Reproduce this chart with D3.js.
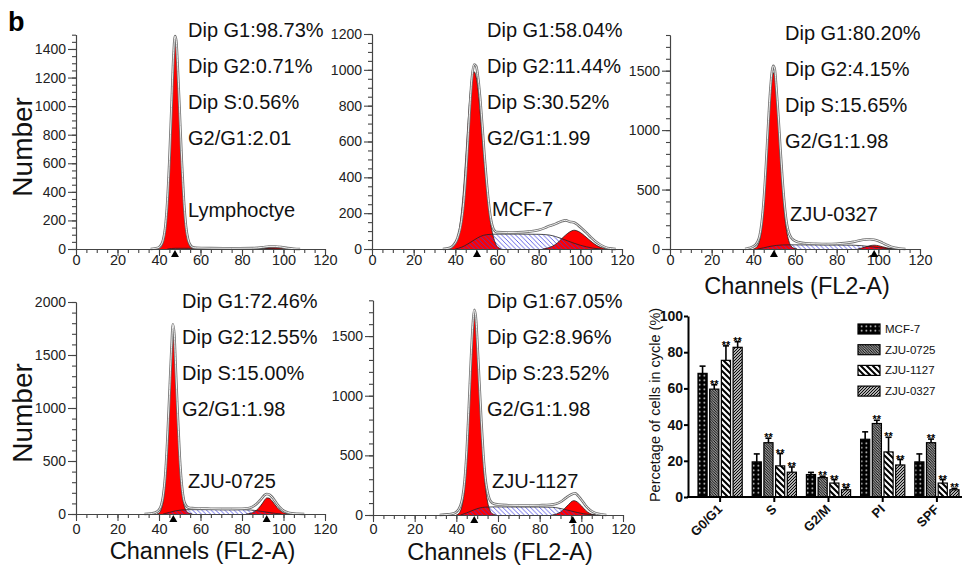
<!DOCTYPE html>
<html><head><meta charset="utf-8">
<script src="https://cdn.jsdelivr.net/npm/d3@7"></script>
<style>
body{margin:0;background:#fff}
svg{display:block}
text{font-family:"Liberation Sans",Arial,Helvetica,sans-serif}
</style>
</head><body>
<svg id="c" width="962" height="567"></svg>
<script>
// ---------------- Histogram data (channel, count) ----------------
const lymphG1 = [[39,0],[40,6],[41,18],[42,50],[43,130],[44,300],[45,580],[46,950],[47,1320],[47.7,1475],[48.3,1440],[49,1250],[50,920],[51,580],[52,310],[53,140],[54,55],[55,18],[56,5],[57,0]];
const lymphS  = [[44,0],[48,5],[55,5],[70,4],[90,4],[96,2],[100,0]];
const lymphG2 = [[88,0],[91,6],[94,12],[96,12],[98,8],[100,3],[103,0]];
const lymphEnv = [[36,0],[38,4],[40,12],[41,28],[42,65],[43,150],[44,330],[45,620],[46,990],[47,1360],[47.7,1490],[48.3,1460],[49,1280],[50,950],[51,610],[52,340],[53,160],[54,70],[55,30],[56,14],[58,8],[65,6],[75,5],[85,6],[90,12],[93,18],[96,18],[99,14],[102,6],[105,2],[108,0]];

const mcfG1 = [[37,0],[39,15],[41,60],[42,120],[43,210],[44,340],[45,510],[46,690],[47,850],[48,960],[49,990],[50,960],[51,880],[52,750],[53,610],[54,470],[55,340],[56,230],[57,140],[58,80],[59,40],[60,15],[62,0]];
const mcfS  = [[40,0],[43,10],[46,28],[49,50],[52,70],[55,80],[60,83],[70,83],[80,82],[85,78],[88,70],[91,58],[94,45],[97,32],[100,21],[103,12],[106,5],[110,0]];
const mcfG2 = [[82,0],[85,8],[88,25],[90,45],[92,68],[94,88],[96,102],[97,105],[98,103],[100,92],[102,74],[104,54],[106,35],[108,19],[110,8],[112,2],[114,0]];
const mcfEnv = [[34,0],[37,5],[39,20],[41,60],[43,160],[44,260],[45,410],[46,600],[47,800],[48,960],[49,1030],[50,1020],[51,950],[52,830],[53,680],[54,520],[55,380],[56,260],[57,170],[58,120],[59,100],[60,94],[65,92],[70,93],[75,97],[80,106],[83,118],[85,128],[87,135],[89,145],[91,155],[93,160],[95,152],[97,148],[99,132],[101,112],[103,90],[105,66],[107,45],[109,28],[111,15],[113,6],[115,2],[117,0]];

const z0327G1 = [[40,0],[41,8],[42,25],[43,70],[44,170],[45,350],[46,620],[47,930],[48,1230],[49,1440],[49.6,1483],[50.3,1450],[51,1300],[52,1050],[53,760],[54,500],[55,290],[56,150],[57,70],[58,28],[59,10],[61,0]];
const z0327S  = [[42,0],[45,10],[48,22],[51,30],[54,34],[58,35],[70,34],[80,33],[88,32],[92,28],[96,20],[100,12],[104,5],[108,0]];
const z0327G2 = [[90,0],[92,8],[94,18],[96,28],[98,32],[100,28],[102,19],[104,10],[106,3],[108,0]];
const z0327Env = [[36,0],[38,8],[40,22],[41,35],[42,60],[43,110],[44,220],[45,410],[46,680],[47,1000],[48,1300],[49,1500],[49.6,1540],[50.3,1510],[51,1370],[52,1120],[53,840],[54,580],[55,370],[56,220],[57,140],[58,100],[59,80],[60,68],[62,56],[65,48],[70,44],[75,42],[80,44],[85,52],[88,60],[91,72],[94,80],[96,82],[98,78],[100,68],[102,52],[104,35],[106,20],[108,10],[110,4],[113,0]];

const z0725G1 = [[39,0],[40,10],[41,40],[42,120],[43,300],[44,620],[45,1050],[46,1480],[46.7,1705],[47.4,1600],[48,1330],[49,880],[50,480],[51,220],[52,90],[53,35],[54,12],[56,0]];
const z0725S  = [[42,0],[45,15],[48,30],[51,38],[54,41],[60,41],[70,40],[80,40],[84,38],[87,32],[90,23],[93,14],[96,6],[99,0]];
const z0725G2 = [[82,0],[84,6],[86,22],[88,55],[90,105],[91,135],[92,152],[93,150],[94,135],[95,112],[96,85],[97,60],[98,40],[99,24],[100,12],[101,6],[103,0]];
const z0725Env = [[33,0],[36,4],[38,12],[39,22],[40,40],[41,80],[42,170],[43,360],[44,690],[45,1120],[46,1560],[46.7,1790],[47.4,1690],[48,1410],[49,950],[50,540],[51,270],[52,130],[53,80],[54,62],[56,55],[60,52],[65,50],[70,48],[75,48],[80,50],[83,55],[85,68],[87,95],[89,135],[90,160],[91,180],[92,188],[93,185],[94,170],[95,148],[96,120],[97,92],[98,68],[99,48],[100,32],[102,15],[104,6],[107,2],[110,0]];

const z1127G1 = [[40,0],[41,10],[42,35],[43,100],[44,230],[45,470],[46,820],[47,1220],[48,1550],[48.6,1662],[49.3,1600],[50,1400],[51,1060],[52,720],[53,430],[54,230],[55,110],[56,45],[57,15],[59,0]];
const z1127S  = [[42,0],[45,18],[48,40],[51,58],[54,66],[58,68],[70,67],[80,67],[86,65],[89,58],[92,47],[95,34],[98,21],[101,11],[104,4],[107,0]];
const z1127G2 = [[86,0],[88,8],[90,25],[92,55],[94,90],[95.5,115],[96.5,120],[98,110],[99,95],[100,78],[101,58],[102,40],[103,25],[104,14],[105,7],[107,0]];
const z1127Env = [[32,0],[36,5],[39,15],[40,25],[41,45],[42,80],[43,150],[44,290],[45,540],[46,900],[47,1300],[48,1620],[48.6,1720],[49.3,1670],[50,1480],[51,1130],[52,790],[53,500],[54,300],[55,190],[56,130],[57,105],[58,95],[60,88],[65,82],[70,80],[75,80],[80,82],[85,86],[88,95],[90,110],[92,135],[94,160],[96,178],[97,182],[98,170],[99,150],[100,128],[101,105],[102,80],[104,45],[106,22],[108,10],[110,4],[112,0]];

// Peak markers (channel means)
const lymphMarks = [47.7];
const mcfMarks = [50.4];
const z0327Marks = [49.9, 98];
const z0725Marks = [46.9, 91.9];
const z1127Marks = [48.6, 95.9];

// Text annotations
const lymphStats = ["Dip G1:98.73%","Dip G2:0.71%","Dip S:0.56%","G2/G1:2.01"];
const mcfStats   = ["Dip G1:58.04%","Dip G2:11.44%","Dip S:30.52%","G2/G1:1.99"];
const z0327Stats = ["Dip G1:80.20%","Dip G2:4.15%","Dip S:15.65%","G2/G1:1.98"];
const z0725Stats = ["Dip G1:72.46%","Dip G2:12.55%","Dip S:15.00%","G2/G1:1.98"];
const z1127Stats = ["Dip G1:67.05%","Dip G2:8.96%","Dip S:23.52%","G2/G1:1.98"];
const sampleNames = ["Lymphoctye","MCF-7","ZJU-0327","ZJU-0725","ZJU-1127"];

// x-axis ticks for histograms
const histXTicks = [0,20,40,60,80,100,120];

// ---------------- Bar chart data ----------------
const barCategories = ["G0/G1","S","G2/M","PI","SPF"];
const barSeries = ["MCF-7","ZJU-0725","ZJU-1127","ZJU-0327"];
const mcf7Mean    = [68.3, 19.4, 12.4, 31.9, 19.4];
const mcf7Err     = [4.0, 4.4, 1.2, 4.1, 4.4];
const zju0725Mean = [59.6, 30.0, 10.7, 40.6, 30.0];
const zju0725Err  = [2.4, 2.5, 0.8, 1.8, 2.0];
const zju1127Mean = [75.5, 17.2, 7.7, 24.9, 7.7];
const zju1127Err  = [8.0, 6.8, 1.9, 8.1, 1.9];
const zju0327Mean = [82.7, 13.7, 4.0, 17.7, 4.0];
const zju0327Err  = [3.1, 2.9, 1.2, 3.0, 0.8];
const barSignif   = ["", "**", "**", "**"];
const barYTicks = [0,20,40,60,80,100];

// ---------------- Drawing ----------------
const svg = d3.select("#c");
const defs = svg.append("defs");
const FONT = '"Liberation Sans",Arial,Helvetica,sans-serif';

// histogram hatch
const hp = defs.append("pattern").attr("id","hatchS").attr("patternUnits","userSpaceOnUse").attr("width",4.6).attr("height",4.6);
hp.append("path").attr("d","M-1,-1 L5.6,5.6 M-1,3.6 L1,5.6 M3.6,-1 L5.6,1").attr("stroke","#3c3ce0").attr("stroke-width",0.8);

// bar patterns
const pDots = defs.append("pattern").attr("id","pDots").attr("patternUnits","userSpaceOnUse").attr("width",4.5).attr("height",4.5);
pDots.append("rect").attr("width",4.5).attr("height",4.5).attr("fill","#000");
pDots.append("circle").attr("cx",2.25).attr("cy",2.25).attr("r",0.8).attr("fill","#fff");
const p0725 = defs.append("pattern").attr("id","p0725").attr("patternUnits","userSpaceOnUse").attr("width",2.6).attr("height",2.6);
p0725.append("rect").attr("width",2.6).attr("height",2.6).attr("fill","#fff");
p0725.append("path").attr("d","M-1,-1 L3.6,3.6 M-1,1.6 L1,3.6 M1.6,-1 L3.6,1").attr("stroke","#000").attr("stroke-width",1.1);
const p1127 = defs.append("pattern").attr("id","p1127").attr("patternUnits","userSpaceOnUse").attr("width",6).attr("height",6);
p1127.append("rect").attr("width",6).attr("height",6).attr("fill","#000");
p1127.append("path").attr("d","M-1,-1 L7,7 M-1,5 L1,7 M5,-1 L7,1").attr("stroke","#fff").attr("stroke-width",2.2);
const p0327 = defs.append("pattern").attr("id","p0327").attr("patternUnits","userSpaceOnUse").attr("width",3).attr("height",3);
p0327.append("rect").attr("width",3).attr("height",3).attr("fill","#fff");
p0327.append("path").attr("d","M-1,4 L4,-1 M-1,1 L1,-1 M2,4 L4,2").attr("stroke","#000").attr("stroke-width",1.2);

// panel "b"
svg.append("text").attr("x",8).attr("y",31).attr("font-size",27).attr("font-weight","bold").attr("font-family",FONT).attr("fill","#000").text("b");

const panels = [
  {g1:lymphG1,s:lymphS,g2:lymphG2,env:lymphEnv,marks:lymphMarks,stats:lymphStats,name:sampleNames[0],
   x0:76,x1:325,base:249,top:34.7,ymax:1500,major:200,minor:50,tx:188,ty:37,nx:188,ny:217,ylab:true,xlab:false,lo:16},
  {g1:mcfG1,s:mcfS,g2:mcfG2,env:mcfEnv,marks:mcfMarks,stats:mcfStats,name:sampleNames[1],
   x0:372,x1:622,base:249,top:34,ymax:1200,major:200,minor:50,tx:487,ty:37,nx:492,ny:216,ylab:false,xlab:false,lo:16},
  {g1:z0327G1,s:z0327S,g2:z0327G2,env:z0327Env,marks:z0327Marks,stats:z0327Stats,name:sampleNames[2],
   x0:670,x1:920,base:249,top:35,ymax:1800,major:500,minor:100,tx:785,ty:40,nx:790,ny:221,ylab:false,xlab:true,lo:16},
  {g1:z0725G1,s:z0725S,g2:z0725G2,env:z0725Env,marks:z0725Marks,stats:z0725Stats,name:sampleNames[3],
   x0:76,x1:325,base:514,top:302,ymax:2000,major:500,minor:100,tx:182,ty:308,nx:188,ny:488,ylab:true,xlab:true,lo:19.5},
  {g1:z1127G1,s:z1127S,g2:z1127G2,env:z1127Env,marks:z1127Marks,stats:z1127Stats,name:sampleNames[4],
   x0:373,x1:623,base:515,top:300.3,ymax:1800,major:500,minor:100,tx:487,ty:308,nx:492,ny:488,ylab:false,xlab:true,lo:19}
];

panels.forEach(p => {
  const g = svg.append("g");
  const x = d3.scaleLinear().domain([0,120]).range([p.x0,p.x1]);
  const y = d3.scaleLinear().domain([0,p.ymax]).range([p.base,p.top]);
  const area = d3.area().x(d=>x(d[0])).y0(y(0)).y1(d=>y(d[1])).curve(d3.curveMonotoneX);
  const line = d3.line().x(d=>x(d[0])).y(d=>y(d[1])).curve(d3.curveMonotoneX);

  g.append("path").datum(p.g1).attr("d",area).attr("fill","#ff0000");
  g.append("path").datum(p.g2).attr("d",area).attr("fill","#ff0000");
  g.append("path").datum(p.s).attr("d",area).attr("fill","url(#hatchS)");
  g.append("path").datum(p.g1).attr("d",line).attr("fill","none").attr("stroke","#222").attr("stroke-width",0.8);
  g.append("path").datum(p.g2).attr("d",line).attr("fill","none").attr("stroke","#222").attr("stroke-width",0.8);
  g.append("path").datum(p.s).attr("d",line).attr("fill","none").attr("stroke","#222").attr("stroke-width",0.8);
  g.append("path").datum(p.env).attr("d",line).attr("fill","none").attr("stroke","#707070").attr("stroke-width",2.6);
  g.append("path").datum(p.env).attr("d",line).attr("fill","none").attr("stroke","#fff").attr("stroke-width",0.9);

  // y axis
  const fmt = d3.format("d");
  const yMinor = d3.axisLeft(y).tickValues(d3.range(0,p.ymax+0.1,p.minor)).tickSize(4).tickFormat("").tickSizeOuter(0);
  const ym = g.append("g").attr("transform",`translate(${p.x0},0)`).call(yMinor);
  const yMajor = d3.axisLeft(y).tickValues(d3.range(0,p.ymax+0.1,p.major)).tickSize(8).tickPadding(2).tickSizeOuter(0).tickFormat(fmt);
  const ya = g.append("g").attr("transform",`translate(${p.x0},0)`).call(yMajor);
  // x axis
  const xMinor = d3.axisBottom(x).tickValues(d3.range(0,120.1,5)).tickSize(4).tickFormat("").tickSizeOuter(0);
  const xm = g.append("g").attr("transform",`translate(0,${p.base})`).call(xMinor);
  const xMajor = d3.axisBottom(x).tickValues(histXTicks).tickSize(7).tickSizeOuter(0).tickFormat(fmt);
  const xa = g.append("g").attr("transform",`translate(0,${p.base})`).call(xMajor);
  [ym,ya,xm,xa].forEach(a=>{
    a.selectAll("path,line").attr("stroke","#444").attr("stroke-width",1.1);
  });
  ya.selectAll("text").attr("font-size",14).attr("font-family",FONT).attr("fill","#222");
  xa.selectAll("text").attr("font-size",14.5).attr("font-family",FONT).attr("fill","#222").attr("y",p.lo).attr("dy",0);

  // markers
  g.selectAll("path.mk").data(p.marks).enter().append("path").attr("class","mk")
    .attr("d",d=>`M${x(d)-4},${p.base+8} L${x(d)},${p.base+1} L${x(d)+4},${p.base+8} Z`).attr("fill","#000");

  // stats
  g.selectAll("text.st").data(p.stats).enter().append("text").attr("class","st")
    .attr("x",p.tx).attr("y",(d,i)=>p.ty+i*36).attr("font-size",20).attr("font-family",FONT).attr("fill","#111").text(d=>d);
  g.append("text").attr("x",p.nx).attr("y",p.ny).attr("font-size",20).attr("font-family",FONT).attr("fill","#111").text(p.name);

  if (p.ylab) {
    g.append("text").attr("transform",`translate(32,${(p.base+p.top)/2+5}) rotate(-90)`).attr("text-anchor","middle")
      .attr("font-size",28).attr("font-family",FONT).attr("fill","#111").text("Number");
  }
  if (p.xlab) {
    g.append("text").attr("x",(p.x0+p.x1)/2+2).attr("y",p.base+45).attr("text-anchor","middle")
      .attr("font-size",23.5).attr("font-family",FONT).attr("fill","#111").text("Channels (FL2-A)");
  }
});

// ---------------- Bar chart ----------------
(function(){
  const means = [mcf7Mean, zju0725Mean, zju1127Mean, zju0327Mean];
  const errs = [mcf7Err, zju0725Err, zju1127Err, zju0327Err];
  const fills = ["url(#pDots)","url(#p0725)","url(#p1127)","url(#p0327)"];
  const g = svg.append("g");
  const axX = 688, base = 497;
  const y = d3.scaleLinear().domain([0,100]).range([base,316]);
  const x0 = d3.scaleBand().domain(barCategories).range([693,964]).padding(0);
  const x1 = d3.scaleBand().domain(barSeries).range([5, x0.bandwidth()-5]).paddingInner(0.22).paddingOuter(0);

  const rows = [];
  barCategories.forEach((c,ci)=>barSeries.forEach((s,si)=>rows.push({c,s,si,v:means[si][ci],e:errs[si][ci]})));

  // error bars
  const eg = g.append("g");
  rows.forEach(r=>{
    const cx = x0(r.c)+x1(r.s)+x1.bandwidth()/2;
    eg.append("line").attr("x1",cx).attr("x2",cx).attr("y1",y(r.v)).attr("y2",y(r.v+r.e)).attr("stroke","#000").attr("stroke-width",1.6);
    eg.append("line").attr("x1",cx-3).attr("x2",cx+3).attr("y1",y(r.v+r.e)).attr("y2",y(r.v+r.e)).attr("stroke","#000").attr("stroke-width",1.6);
    if (barSignif[r.si]) {
      eg.append("text").attr("x",cx).attr("y",y(r.v+r.e)+3).attr("text-anchor","middle")
        .attr("font-size",11).attr("font-weight","bold").attr("font-family",FONT).attr("fill","#000").text(barSignif[r.si]);
    }
  });
  g.selectAll("rect.bar").data(rows).enter().append("rect").attr("class","bar")
    .attr("x",d=>x0(d.c)+x1(d.s)).attr("width",x1.bandwidth())
    .attr("y",d=>y(d.v)).attr("height",d=>base-y(d.v))
    .attr("fill",d=>fills[d.si]).attr("stroke","#000").attr("stroke-width",1.2);

  // axes
  const ya = g.append("g").attr("transform",`translate(${axX},0)`)
    .call(d3.axisLeft(y).tickValues(barYTicks).tickSize(4).tickPadding(1).tickSizeOuter(0));
  ya.selectAll("path,line").attr("stroke","#000").attr("stroke-width",2);
  ya.selectAll("text").attr("font-size",14).attr("font-weight","bold").attr("font-family",FONT).attr("fill","#111");

  g.append("line").attr("x1",axX-1).attr("x2",962).attr("y1",base).attr("y2",base).attr("stroke","#000").attr("stroke-width",2);
  barCategories.forEach(c=>{
    const cx = x0(c)+x0.bandwidth()/2;
    g.append("line").attr("x1",cx).attr("x2",cx).attr("y1",base).attr("y2",base+5).attr("stroke","#000").attr("stroke-width",2);
    g.append("text").attr("transform",`translate(${cx+3},${base+13}) rotate(-45)`).attr("text-anchor","end")
      .attr("font-size",13).attr("font-weight","bold").attr("font-family",FONT).attr("fill","#111").text(c);
  });

  g.append("text").attr("transform",`translate(660,405) rotate(-90)`).attr("text-anchor","middle")
    .attr("font-size",14.5).attr("font-family",FONT).attr("fill","#111").text("Percetage of cells in cycle (%)");

  // legend
  const lg = g.append("g");
  barSeries.forEach((s,i)=>{
    const yy = 329 + i*20.7;
    lg.append("rect").attr("x",858).attr("y",yy-5).attr("width",22).attr("height",10)
      .attr("fill",fills[i]).attr("stroke","#000").attr("stroke-width",1.2);
    lg.append("text").attr("x",885).attr("y",yy+4).attr("font-size",11.5).attr("font-family",FONT).attr("fill","#111").text(s);
  });
})();
</script>
</body></html>
